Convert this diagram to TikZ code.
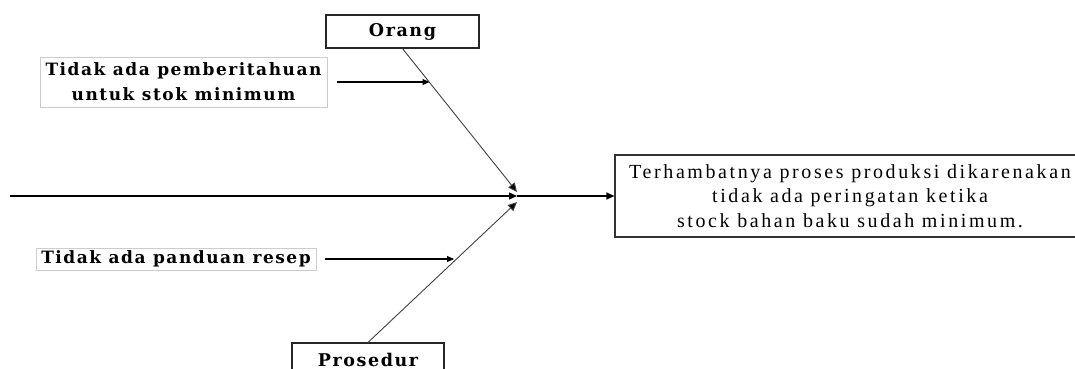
\documentclass[tikz,border=0pt]{standalone}
\usepackage{fontspec}
\setmainfont{Liberation Serif}
\newfontfamily\labfont[LetterSpace=9]{DejaVu Serif}
\newfontfamily\efffont[LetterSpace=13]{Liberation Serif}
\usetikzlibrary{arrows.meta}
\begin{document}
\begin{tikzpicture}[x=1pt,y=-1pt,
  catbox/.style={draw=black!85, line width=1.2pt, inner sep=0pt, font=\labfont\bfseries\fontsize{17.5}{22}\selectfont},
  lablbox/.style={draw=black!20, line width=0.6pt, inner sep=0pt, align=center, font=\labfont\bfseries\fontsize{17}{25}\selectfont},
  effbox/.style={draw=black!80, line width=1.2pt, inner sep=0pt, align=center, font=\efffont\fontsize{20}{24.5}\selectfont},
  spine/.style={line width=1.3pt, -{Triangle[length=8pt,width=7pt]}},
  bone/.style={line width=0.9pt, black!75, -{Triangle[length=9pt,width=8pt,fill=black]}},
  sub/.style={line width=1.1pt, -{Triangle[length=7pt,width=6pt]}}
]
\useasboundingbox (0,0) rectangle (1075,369);

% category boxes
\node[catbox, minimum width=153pt, minimum height=33pt] (orang) at (402.5,31.5) {Orang};
\node[catbox, minimum width=152pt, minimum height=34pt] (pros) at (368,360) {Prosedur};

% effect box
\node[effbox, minimum width=470pt, minimum height=82pt] (eff) at (850,196)
  {Terhambatnya proses produksi dikarenakan\\tidak ada peringatan ketika\\stock bahan baku sudah minimum.};

% cause labels
\node[lablbox, minimum width=287pt, minimum height=50pt] (c1) at (183.5,82)
  {Tidak ada pemberitahuan\\untuk stok minimum};
\node[lablbox, minimum width=280pt, minimum height=22pt] (c2) at (176,259)
  {Tidak ada panduan resep};

% coordinates
\coordinate (start) at (10,196);
\coordinate (head) at (517,196);
\coordinate (jtop) at (517,192);
\coordinate (jbot) at (517,202);
\coordinate (p1) at (429.5,82);
\coordinate (p2) at (454,259);

% spine
\draw[spine] (start) -- (head);
\draw[spine] (head) -- (eff.west);

% bones
\draw[bone] (orang.south) -- (jtop);
\draw[bone] (pros.north) -- (jbot);

% sub causes
\draw[sub] ([xshift=10pt]c1.east) -- (p1);
\draw[sub] ([xshift=9pt]c2.east) -- (p2);
\end{tikzpicture}
\end{document}
